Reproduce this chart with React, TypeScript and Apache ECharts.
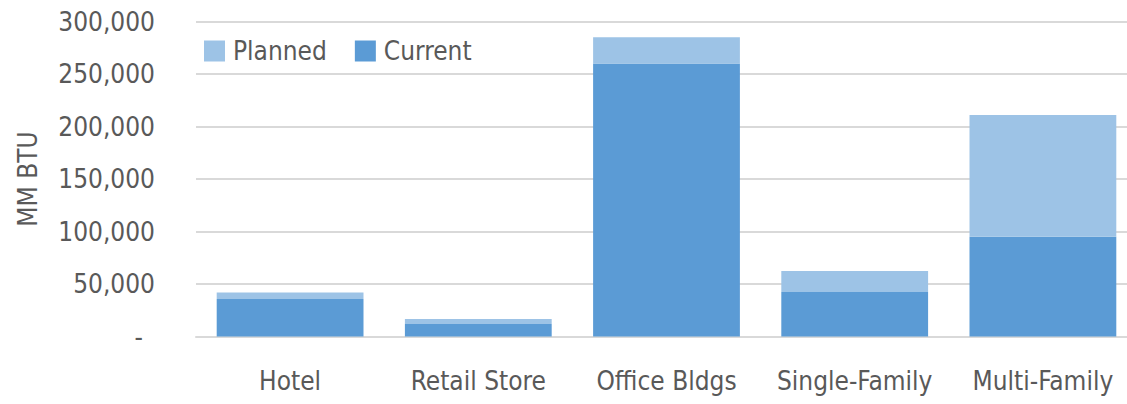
import React, { useEffect, useRef } from "react";
import * as echarts from "echarts";

const categories = ["Hotel", "Retail Store", "Office Bldgs", "Single-Family", "Multi-Family"];
const currentValues = [35600, 12000, 260000, 42500, 95000];
const plannedValues = [6400, 4600, 25000, 20000, 116000];
const yTicks = [0, 50000, 100000, 150000, 200000, 250000, 300000];

const FONT = "'DejaVu Sans Condensed', 'Liberation Sans Narrow', sans-serif";
const TEXT = "#595959";
const FS = 26;

export default function App() {
  const ref = useRef<HTMLDivElement>(null);
  useEffect(() => {
    if (!ref.current) return;
    const chart = echarts.init(ref.current, undefined, { renderer: "svg" });
    chart.setOption({
      animation: false,
      backgroundColor: "#ffffff",
      textStyle: { fontFamily: FONT, color: TEXT },
      legend: {
        data: ["Planned", "Current"],
        left: 204,
        top: 38,
        padding: 0,
        itemWidth: 21,
        itemHeight: 21,
        itemGap: 28,
        icon: "rect",
        textStyle: { fontFamily: FONT, fontSize: FS, color: TEXT, padding: [0, 0, 0, 3] },
      },
      grid: { left: 196, top: 21.5, right: 0, bottom: 67.5, containLabel: false },
      xAxis: {
        type: "category",
        data: categories,
        axisLine: { show: true, lineStyle: { color: "#D9D9D9", width: 2 } },
        axisTick: { show: false },
        axisLabel: { fontFamily: FONT, fontSize: FS, color: TEXT, margin: 31, interval: 0 },
      },
      yAxis: {
        type: "value",
        min: yTicks[0],
        max: yTicks[yTicks.length - 1],
        interval: 50000,
        axisLine: { show: false },
        axisTick: { show: false },
        splitLine: { lineStyle: { color: "#D9D9D9", width: 2 } },
        axisLabel: {
          fontFamily: FONT,
          fontSize: FS,
          color: TEXT,
          margin: 41,
          formatter: (v: number) => (v === 0 ? "{z|-}" : v.toLocaleString("en-US")),
          rich: { z: { fontFamily: FONT, fontSize: FS, color: TEXT, padding: [0, 12, 0, 0] } },
        },
      },
      graphic: [
        {
          type: "text",
          x: 28,
          y: 179,
          rotation: Math.PI / 2,
          style: {
            text: "MM BTU",
            fontFamily: FONT,
            fontSize: FS,
            fill: TEXT,
            align: "center",
            verticalAlign: "middle",
          },
        },
      ],
      series: [
        {
          name: "Current",
          type: "bar",
          stack: "total",
          data: currentValues,
          barCategoryGap: "22%",
          itemStyle: { color: "#5B9BD5" },
        },
        {
          name: "Planned",
          type: "bar",
          stack: "total",
          data: plannedValues,
          barCategoryGap: "22%",
          itemStyle: { color: "#9DC3E6" },
        },
      ],
    });
    return () => chart.dispose();
  }, []);
  return (
    <div
      style={{ position: "absolute", left: 0, top: 0, width: 1127, height: 404, overflow: "hidden", background: "#fff" }}
    >
      <div ref={ref} style={{ width: 1137, height: 404 }} />
    </div>
  );
}
